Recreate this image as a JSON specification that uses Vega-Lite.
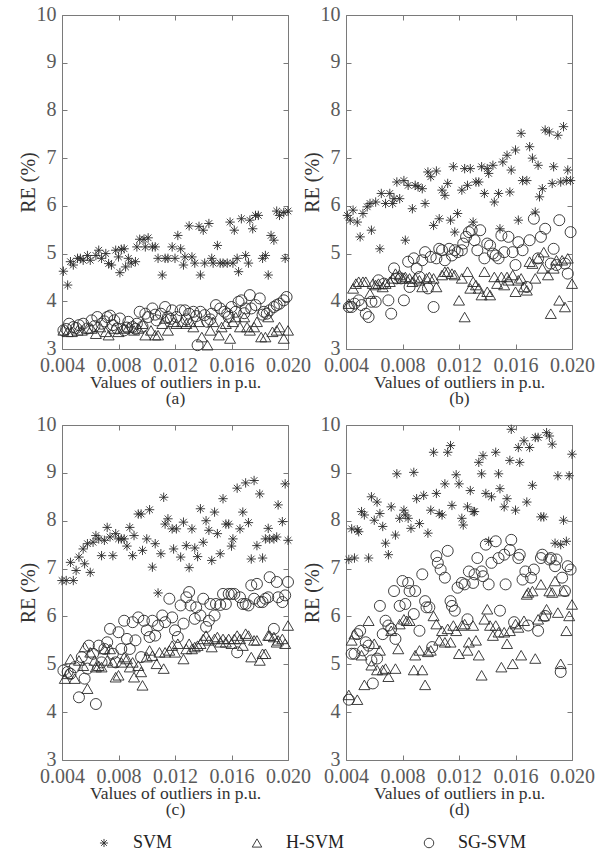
{
"$schema": "https://vega.github.io/schema/vega-lite/v6.json",
"autosize": {"type": "pad"},
"padding": {"left": 17, "top": 3, "right": 5, "bottom": 5},
"background": "white",
"datasets": {
"a": [
{"s":"SVM","x":0.0041,"y":4.63},{"s":"SVM","x":0.0044,"y":4.34},{"s":"SVM","x":0.0046,"y":4.83},{"s":"SVM","x":0.0048,"y":4.76},{"s":"SVM","x":0.0051,"y":4.9},{"s":"SVM","x":0.0053,"y":4.9},{"s":"SVM","x":0.0055,"y":4.86},{"s":"SVM","x":0.0058,"y":4.96},{"s":"SVM","x":0.006,"y":4.86},{"s":"SVM","x":0.0064,"y":4.96},{"s":"SVM","x":0.0066,"y":5.07},{"s":"SVM","x":0.0068,"y":4.9},{"s":"SVM","x":0.0071,"y":5.0},{"s":"SVM","x":0.0073,"y":4.79},{"s":"SVM","x":0.0075,"y":4.76},{"s":"SVM","x":0.0078,"y":5.07},{"s":"SVM","x":0.008,"y":4.93},{"s":"SVM","x":0.0081,"y":4.6},{"s":"SVM","x":0.0082,"y":5.09},{"s":"SVM","x":0.0084,"y":5.1},{"s":"SVM","x":0.0085,"y":4.72},{"s":"SVM","x":0.0087,"y":4.9},{"s":"SVM","x":0.0089,"y":4.8},{"s":"SVM","x":0.0092,"y":4.83},{"s":"SVM","x":0.0093,"y":5.14},{"s":"SVM","x":0.0095,"y":5.3},{"s":"SVM","x":0.0098,"y":5.3},{"s":"SVM","x":0.0099,"y":5.14},{"s":"SVM","x":0.0101,"y":5.33},{"s":"SVM","x":0.0104,"y":5.14},{"s":"SVM","x":0.0106,"y":5.14},{"s":"SVM","x":0.0108,"y":4.9},{"s":"SVM","x":0.0111,"y":4.55},{"s":"SVM","x":0.0113,"y":4.9},{"s":"SVM","x":0.0115,"y":4.9},{"s":"SVM","x":0.0118,"y":5.14},{"s":"SVM","x":0.012,"y":4.9},{"s":"SVM","x":0.0122,"y":5.38},{"s":"SVM","x":0.0124,"y":5.1},{"s":"SVM","x":0.0126,"y":4.76},{"s":"SVM","x":0.0127,"y":4.93},{"s":"SVM","x":0.013,"y":5.58},{"s":"SVM","x":0.0132,"y":4.93},{"s":"SVM","x":0.0134,"y":4.8},{"s":"SVM","x":0.0137,"y":5.57},{"s":"SVM","x":0.0138,"y":4.55},{"s":"SVM","x":0.014,"y":5.49},{"s":"SVM","x":0.0141,"y":4.8},{"s":"SVM","x":0.0144,"y":5.63},{"s":"SVM","x":0.0146,"y":4.9},{"s":"SVM","x":0.0147,"y":4.8},{"s":"SVM","x":0.015,"y":5.17},{"s":"SVM","x":0.0152,"y":4.8},{"s":"SVM","x":0.0154,"y":4.8},{"s":"SVM","x":0.0157,"y":4.8},{"s":"SVM","x":0.0159,"y":5.66},{"s":"SVM","x":0.0161,"y":4.8},{"s":"SVM","x":0.0162,"y":5.49},{"s":"SVM","x":0.0164,"y":4.9},{"s":"SVM","x":0.0165,"y":4.62},{"s":"SVM","x":0.0167,"y":5.73},{"s":"SVM","x":0.017,"y":4.96},{"s":"SVM","x":0.0172,"y":4.8},{"s":"SVM","x":0.0173,"y":5.7},{"s":"SVM","x":0.0175,"y":5.52},{"s":"SVM","x":0.0177,"y":5.8},{"s":"SVM","x":0.0179,"y":5.8},{"s":"SVM","x":0.0182,"y":4.9},{"s":"SVM","x":0.0184,"y":4.96},{"s":"SVM","x":0.0186,"y":4.55},{"s":"SVM","x":0.0188,"y":5.38},{"s":"SVM","x":0.019,"y":5.28},{"s":"SVM","x":0.0192,"y":5.89},{"s":"SVM","x":0.0194,"y":5.8},{"s":"SVM","x":0.0197,"y":5.86},{"s":"SVM","x":0.0198,"y":4.9},{"s":"SVM","x":0.02,"y":5.89},
{"s":"SG-SVM","x":0.0041,"y":3.39},{"s":"SG-SVM","x":0.0043,"y":3.42},{"s":"SG-SVM","x":0.0045,"y":3.53},{"s":"SG-SVM","x":0.0048,"y":3.46},{"s":"SG-SVM","x":0.005,"y":3.44},{"s":"SG-SVM","x":0.0052,"y":3.5},{"s":"SG-SVM","x":0.0055,"y":3.53},{"s":"SG-SVM","x":0.0058,"y":3.43},{"s":"SG-SVM","x":0.0061,"y":3.6},{"s":"SG-SVM","x":0.0063,"y":3.48},{"s":"SG-SVM","x":0.0065,"y":3.67},{"s":"SG-SVM","x":0.0068,"y":3.53},{"s":"SG-SVM","x":0.007,"y":3.58},{"s":"SG-SVM","x":0.0072,"y":3.67},{"s":"SG-SVM","x":0.0074,"y":3.7},{"s":"SG-SVM","x":0.0076,"y":3.5},{"s":"SG-SVM","x":0.0077,"y":3.6},{"s":"SG-SVM","x":0.0079,"y":3.43},{"s":"SG-SVM","x":0.0081,"y":3.64},{"s":"SG-SVM","x":0.0084,"y":3.39},{"s":"SG-SVM","x":0.0086,"y":3.45},{"s":"SG-SVM","x":0.0087,"y":3.57},{"s":"SG-SVM","x":0.009,"y":3.46},{"s":"SG-SVM","x":0.0092,"y":3.42},{"s":"SG-SVM","x":0.0093,"y":3.53},{"s":"SG-SVM","x":0.0095,"y":3.78},{"s":"SG-SVM","x":0.0097,"y":3.47},{"s":"SG-SVM","x":0.0099,"y":3.74},{"s":"SG-SVM","x":0.0101,"y":3.67},{"s":"SG-SVM","x":0.0104,"y":3.85},{"s":"SG-SVM","x":0.0106,"y":3.72},{"s":"SG-SVM","x":0.0107,"y":3.6},{"s":"SG-SVM","x":0.011,"y":3.74},{"s":"SG-SVM","x":0.0113,"y":3.88},{"s":"SG-SVM","x":0.0115,"y":3.67},{"s":"SG-SVM","x":0.0117,"y":3.63},{"s":"SG-SVM","x":0.0118,"y":3.81},{"s":"SG-SVM","x":0.0121,"y":3.67},{"s":"SG-SVM","x":0.0124,"y":3.81},{"s":"SG-SVM","x":0.0127,"y":3.81},{"s":"SG-SVM","x":0.0128,"y":3.62},{"s":"SG-SVM","x":0.013,"y":3.74},{"s":"SG-SVM","x":0.0133,"y":3.78},{"s":"SG-SVM","x":0.0135,"y":3.69},{"s":"SG-SVM","x":0.0136,"y":3.08},{"s":"SG-SVM","x":0.0138,"y":3.78},{"s":"SG-SVM","x":0.0141,"y":3.71},{"s":"SG-SVM","x":0.0143,"y":3.57},{"s":"SG-SVM","x":0.0145,"y":3.62},{"s":"SG-SVM","x":0.0146,"y":3.74},{"s":"SG-SVM","x":0.0149,"y":3.92},{"s":"SG-SVM","x":0.0152,"y":3.85},{"s":"SG-SVM","x":0.0155,"y":3.78},{"s":"SG-SVM","x":0.0157,"y":3.74},{"s":"SG-SVM","x":0.0158,"y":3.67},{"s":"SG-SVM","x":0.016,"y":3.88},{"s":"SG-SVM","x":0.0163,"y":3.78},{"s":"SG-SVM","x":0.0165,"y":3.99},{"s":"SG-SVM","x":0.0167,"y":4.02},{"s":"SG-SVM","x":0.0169,"y":3.75},{"s":"SG-SVM","x":0.017,"y":3.85},{"s":"SG-SVM","x":0.0173,"y":4.13},{"s":"SG-SVM","x":0.0174,"y":3.85},{"s":"SG-SVM","x":0.0177,"y":3.92},{"s":"SG-SVM","x":0.018,"y":4.06},{"s":"SG-SVM","x":0.0182,"y":3.72},{"s":"SG-SVM","x":0.0183,"y":3.78},{"s":"SG-SVM","x":0.0185,"y":3.74},{"s":"SG-SVM","x":0.0187,"y":3.81},{"s":"SG-SVM","x":0.019,"y":3.88},{"s":"SG-SVM","x":0.0192,"y":3.92},{"s":"SG-SVM","x":0.0194,"y":3.95},{"s":"SG-SVM","x":0.0197,"y":4.02},{"s":"SG-SVM","x":0.0199,"y":4.09},
{"s":"H-SVM","x":0.0041,"y":3.39},{"s":"H-SVM","x":0.0044,"y":3.36},{"s":"H-SVM","x":0.0047,"y":3.36},{"s":"H-SVM","x":0.0051,"y":3.39},{"s":"H-SVM","x":0.0054,"y":3.39},{"s":"H-SVM","x":0.0058,"y":3.43},{"s":"H-SVM","x":0.0061,"y":3.43},{"s":"H-SVM","x":0.0064,"y":3.32},{"s":"H-SVM","x":0.0067,"y":3.46},{"s":"H-SVM","x":0.0071,"y":3.36},{"s":"H-SVM","x":0.0073,"y":3.29},{"s":"H-SVM","x":0.0077,"y":3.43},{"s":"H-SVM","x":0.008,"y":3.36},{"s":"H-SVM","x":0.0084,"y":3.43},{"s":"H-SVM","x":0.0087,"y":3.46},{"s":"H-SVM","x":0.0091,"y":3.39},{"s":"H-SVM","x":0.0094,"y":3.43},{"s":"H-SVM","x":0.0097,"y":3.53},{"s":"H-SVM","x":0.0099,"y":3.29},{"s":"H-SVM","x":0.0103,"y":3.39},{"s":"H-SVM","x":0.0106,"y":3.29},{"s":"H-SVM","x":0.0108,"y":3.29},{"s":"H-SVM","x":0.0111,"y":3.53},{"s":"H-SVM","x":0.0113,"y":3.64},{"s":"H-SVM","x":0.0115,"y":3.39},{"s":"H-SVM","x":0.0119,"y":3.57},{"s":"H-SVM","x":0.0121,"y":3.53},{"s":"H-SVM","x":0.0125,"y":3.57},{"s":"H-SVM","x":0.0128,"y":3.53},{"s":"H-SVM","x":0.0131,"y":3.57},{"s":"H-SVM","x":0.0133,"y":3.46},{"s":"H-SVM","x":0.0137,"y":3.57},{"s":"H-SVM","x":0.0139,"y":3.25},{"s":"H-SVM","x":0.0143,"y":3.08},{"s":"H-SVM","x":0.0145,"y":3.39},{"s":"H-SVM","x":0.0147,"y":3.57},{"s":"H-SVM","x":0.0151,"y":3.29},{"s":"H-SVM","x":0.0153,"y":3.46},{"s":"H-SVM","x":0.0156,"y":3.53},{"s":"H-SVM","x":0.0159,"y":3.22},{"s":"H-SVM","x":0.0161,"y":3.57},{"s":"H-SVM","x":0.0163,"y":3.67},{"s":"H-SVM","x":0.0166,"y":3.46},{"s":"H-SVM","x":0.0169,"y":3.67},{"s":"H-SVM","x":0.0171,"y":3.46},{"s":"H-SVM","x":0.0173,"y":3.39},{"s":"H-SVM","x":0.0176,"y":3.46},{"s":"H-SVM","x":0.0178,"y":3.57},{"s":"H-SVM","x":0.0181,"y":3.25},{"s":"H-SVM","x":0.0184,"y":3.25},{"s":"H-SVM","x":0.0186,"y":3.67},{"s":"H-SVM","x":0.0189,"y":3.36},{"s":"H-SVM","x":0.0192,"y":3.39},{"s":"H-SVM","x":0.0194,"y":3.46},{"s":"H-SVM","x":0.0197,"y":3.22},{"s":"H-SVM","x":0.02,"y":3.39}
],
"b": [
{"s":"SVM","x":0.0041,"y":5.8},{"s":"SVM","x":0.0043,"y":5.7},{"s":"SVM","x":0.0045,"y":5.91},{"s":"SVM","x":0.0048,"y":5.66},{"s":"SVM","x":0.005,"y":5.35},{"s":"SVM","x":0.0052,"y":5.84},{"s":"SVM","x":0.0055,"y":5.98},{"s":"SVM","x":0.0057,"y":6.05},{"s":"SVM","x":0.0058,"y":5.49},{"s":"SVM","x":0.0061,"y":6.08},{"s":"SVM","x":0.0064,"y":5.1},{"s":"SVM","x":0.0065,"y":6.26},{"s":"SVM","x":0.0068,"y":6.05},{"s":"SVM","x":0.0071,"y":6.26},{"s":"SVM","x":0.0073,"y":6.05},{"s":"SVM","x":0.0074,"y":6.15},{"s":"SVM","x":0.0076,"y":6.5},{"s":"SVM","x":0.0078,"y":6.15},{"s":"SVM","x":0.0081,"y":6.53},{"s":"SVM","x":0.0082,"y":5.28},{"s":"SVM","x":0.0084,"y":6.43},{"s":"SVM","x":0.0087,"y":5.94},{"s":"SVM","x":0.0089,"y":6.43},{"s":"SVM","x":0.0091,"y":6.4},{"s":"SVM","x":0.0094,"y":6.36},{"s":"SVM","x":0.0096,"y":6.05},{"s":"SVM","x":0.0098,"y":6.71},{"s":"SVM","x":0.01,"y":6.61},{"s":"SVM","x":0.0102,"y":5.59},{"s":"SVM","x":0.0104,"y":6.73},{"s":"SVM","x":0.0106,"y":5.73},{"s":"SVM","x":0.0108,"y":6.33},{"s":"SVM","x":0.011,"y":6.22},{"s":"SVM","x":0.0112,"y":6.47},{"s":"SVM","x":0.0114,"y":5.7},{"s":"SVM","x":0.0116,"y":6.82},{"s":"SVM","x":0.0117,"y":5.45},{"s":"SVM","x":0.0119,"y":5.84},{"s":"SVM","x":0.0122,"y":6.33},{"s":"SVM","x":0.0124,"y":6.78},{"s":"SVM","x":0.0126,"y":6.43},{"s":"SVM","x":0.0128,"y":6.78},{"s":"SVM","x":0.013,"y":5.66},{"s":"SVM","x":0.0132,"y":6.5},{"s":"SVM","x":0.0134,"y":6.5},{"s":"SVM","x":0.0136,"y":6.82},{"s":"SVM","x":0.0138,"y":6.26},{"s":"SVM","x":0.014,"y":6.78},{"s":"SVM","x":0.0141,"y":6.68},{"s":"SVM","x":0.0144,"y":6.85},{"s":"SVM","x":0.0145,"y":6.08},{"s":"SVM","x":0.0148,"y":6.26},{"s":"SVM","x":0.0149,"y":5.52},{"s":"SVM","x":0.0151,"y":6.92},{"s":"SVM","x":0.0154,"y":7.06},{"s":"SVM","x":0.0156,"y":6.29},{"s":"SVM","x":0.0157,"y":6.75},{"s":"SVM","x":0.016,"y":7.17},{"s":"SVM","x":0.0162,"y":5.7},{"s":"SVM","x":0.0164,"y":7.52},{"s":"SVM","x":0.0165,"y":6.53},{"s":"SVM","x":0.0168,"y":6.53},{"s":"SVM","x":0.017,"y":7.24},{"s":"SVM","x":0.0172,"y":7.0},{"s":"SVM","x":0.0174,"y":5.87},{"s":"SVM","x":0.0176,"y":6.85},{"s":"SVM","x":0.0177,"y":6.19},{"s":"SVM","x":0.0179,"y":6.36},{"s":"SVM","x":0.0181,"y":7.59},{"s":"SVM","x":0.0184,"y":7.55},{"s":"SVM","x":0.0186,"y":6.47},{"s":"SVM","x":0.0187,"y":6.82},{"s":"SVM","x":0.019,"y":7.48},{"s":"SVM","x":0.0192,"y":6.5},{"s":"SVM","x":0.0194,"y":7.66},{"s":"SVM","x":0.0196,"y":6.53},{"s":"SVM","x":0.0197,"y":6.75},{"s":"SVM","x":0.0199,"y":6.53},
{"s":"SG-SVM","x":0.0042,"y":3.88},{"s":"SG-SVM","x":0.0044,"y":3.88},{"s":"SG-SVM","x":0.0046,"y":3.95},{"s":"SG-SVM","x":0.0049,"y":4.02},{"s":"SG-SVM","x":0.0051,"y":3.92},{"s":"SG-SVM","x":0.0054,"y":3.74},{"s":"SG-SVM","x":0.0056,"y":3.67},{"s":"SG-SVM","x":0.0058,"y":3.99},{"s":"SG-SVM","x":0.0061,"y":3.99},{"s":"SG-SVM","x":0.0063,"y":4.44},{"s":"SG-SVM","x":0.0067,"y":4.37},{"s":"SG-SVM","x":0.007,"y":4.02},{"s":"SG-SVM","x":0.0072,"y":3.74},{"s":"SG-SVM","x":0.0074,"y":4.69},{"s":"SG-SVM","x":0.0076,"y":4.48},{"s":"SG-SVM","x":0.0079,"y":4.48},{"s":"SG-SVM","x":0.0081,"y":4.02},{"s":"SG-SVM","x":0.0084,"y":4.83},{"s":"SG-SVM","x":0.0085,"y":4.3},{"s":"SG-SVM","x":0.0088,"y":4.9},{"s":"SG-SVM","x":0.009,"y":4.69},{"s":"SG-SVM","x":0.0092,"y":4.51},{"s":"SG-SVM","x":0.0094,"y":4.86},{"s":"SG-SVM","x":0.0096,"y":5.03},{"s":"SG-SVM","x":0.0098,"y":4.27},{"s":"SG-SVM","x":0.01,"y":4.93},{"s":"SG-SVM","x":0.0102,"y":3.88},{"s":"SG-SVM","x":0.0104,"y":4.9},{"s":"SG-SVM","x":0.0106,"y":5.1},{"s":"SG-SVM","x":0.0108,"y":5.07},{"s":"SG-SVM","x":0.011,"y":4.86},{"s":"SG-SVM","x":0.0113,"y":5.1},{"s":"SG-SVM","x":0.0115,"y":4.96},{"s":"SG-SVM","x":0.0117,"y":5.07},{"s":"SG-SVM","x":0.0119,"y":5.03},{"s":"SG-SVM","x":0.0122,"y":5.07},{"s":"SG-SVM","x":0.0123,"y":5.21},{"s":"SG-SVM","x":0.0125,"y":5.35},{"s":"SG-SVM","x":0.0127,"y":5.45},{"s":"SG-SVM","x":0.0129,"y":5.49},{"s":"SG-SVM","x":0.0131,"y":5.28},{"s":"SG-SVM","x":0.0133,"y":5.07},{"s":"SG-SVM","x":0.0135,"y":5.49},{"s":"SG-SVM","x":0.0138,"y":4.9},{"s":"SG-SVM","x":0.014,"y":5.21},{"s":"SG-SVM","x":0.0142,"y":5.17},{"s":"SG-SVM","x":0.0144,"y":5.0},{"s":"SG-SVM","x":0.0146,"y":4.96},{"s":"SG-SVM","x":0.0148,"y":4.9},{"s":"SG-SVM","x":0.015,"y":5.38},{"s":"SG-SVM","x":0.0152,"y":5.03},{"s":"SG-SVM","x":0.0155,"y":5.35},{"s":"SG-SVM","x":0.0158,"y":5.03},{"s":"SG-SVM","x":0.016,"y":4.76},{"s":"SG-SVM","x":0.0162,"y":5.24},{"s":"SG-SVM","x":0.0165,"y":5.07},{"s":"SG-SVM","x":0.0168,"y":4.3},{"s":"SG-SVM","x":0.017,"y":5.28},{"s":"SG-SVM","x":0.0173,"y":5.73},{"s":"SG-SVM","x":0.0176,"y":4.9},{"s":"SG-SVM","x":0.0178,"y":5.35},{"s":"SG-SVM","x":0.0181,"y":5.52},{"s":"SG-SVM","x":0.0185,"y":4.79},{"s":"SG-SVM","x":0.0187,"y":5.1},{"s":"SG-SVM","x":0.0189,"y":4.76},{"s":"SG-SVM","x":0.0191,"y":5.7},{"s":"SG-SVM","x":0.0195,"y":4.79},{"s":"SG-SVM","x":0.0197,"y":4.58},{"s":"SG-SVM","x":0.0199,"y":5.45},
{"s":"H-SVM","x":0.0042,"y":3.95},{"s":"H-SVM","x":0.0045,"y":4.27},{"s":"H-SVM","x":0.0047,"y":4.37},{"s":"H-SVM","x":0.0049,"y":4.41},{"s":"H-SVM","x":0.0052,"y":4.41},{"s":"H-SVM","x":0.0054,"y":4.41},{"s":"H-SVM","x":0.0057,"y":4.16},{"s":"H-SVM","x":0.0059,"y":4.37},{"s":"H-SVM","x":0.0061,"y":4.34},{"s":"H-SVM","x":0.0063,"y":4.37},{"s":"H-SVM","x":0.0066,"y":4.3},{"s":"H-SVM","x":0.0068,"y":4.37},{"s":"H-SVM","x":0.0071,"y":4.41},{"s":"H-SVM","x":0.0073,"y":4.48},{"s":"H-SVM","x":0.0075,"y":4.58},{"s":"H-SVM","x":0.0078,"y":4.55},{"s":"H-SVM","x":0.008,"y":4.48},{"s":"H-SVM","x":0.0082,"y":4.51},{"s":"H-SVM","x":0.0085,"y":4.48},{"s":"H-SVM","x":0.0087,"y":4.41},{"s":"H-SVM","x":0.0089,"y":4.48},{"s":"H-SVM","x":0.0092,"y":4.44},{"s":"H-SVM","x":0.0094,"y":4.3},{"s":"H-SVM","x":0.0097,"y":4.48},{"s":"H-SVM","x":0.0099,"y":4.51},{"s":"H-SVM","x":0.0102,"y":4.48},{"s":"H-SVM","x":0.0104,"y":4.3},{"s":"H-SVM","x":0.0108,"y":4.55},{"s":"H-SVM","x":0.011,"y":4.62},{"s":"H-SVM","x":0.0112,"y":4.62},{"s":"H-SVM","x":0.0115,"y":4.58},{"s":"H-SVM","x":0.0117,"y":4.55},{"s":"H-SVM","x":0.012,"y":4.02},{"s":"H-SVM","x":0.0122,"y":4.48},{"s":"H-SVM","x":0.0124,"y":3.67},{"s":"H-SVM","x":0.0126,"y":4.62},{"s":"H-SVM","x":0.0128,"y":4.27},{"s":"H-SVM","x":0.013,"y":4.41},{"s":"H-SVM","x":0.0132,"y":4.34},{"s":"H-SVM","x":0.0134,"y":4.27},{"s":"H-SVM","x":0.0136,"y":4.13},{"s":"H-SVM","x":0.0138,"y":4.62},{"s":"H-SVM","x":0.014,"y":4.2},{"s":"H-SVM","x":0.0142,"y":4.13},{"s":"H-SVM","x":0.0145,"y":4.51},{"s":"H-SVM","x":0.0147,"y":4.37},{"s":"H-SVM","x":0.015,"y":4.51},{"s":"H-SVM","x":0.0152,"y":4.34},{"s":"H-SVM","x":0.0154,"y":4.51},{"s":"H-SVM","x":0.0155,"y":4.44},{"s":"H-SVM","x":0.0158,"y":4.55},{"s":"H-SVM","x":0.016,"y":4.2},{"s":"H-SVM","x":0.0162,"y":4.44},{"s":"H-SVM","x":0.0164,"y":4.48},{"s":"H-SVM","x":0.0166,"y":4.3},{"s":"H-SVM","x":0.0168,"y":4.23},{"s":"H-SVM","x":0.017,"y":4.83},{"s":"H-SVM","x":0.0172,"y":4.79},{"s":"H-SVM","x":0.0174,"y":4.48},{"s":"H-SVM","x":0.0176,"y":4.9},{"s":"H-SVM","x":0.0179,"y":4.69},{"s":"H-SVM","x":0.018,"y":5.03},{"s":"H-SVM","x":0.0183,"y":4.55},{"s":"H-SVM","x":0.0185,"y":3.74},{"s":"H-SVM","x":0.0187,"y":4.69},{"s":"H-SVM","x":0.0189,"y":4.86},{"s":"H-SVM","x":0.0191,"y":4.02},{"s":"H-SVM","x":0.0193,"y":4.86},{"s":"H-SVM","x":0.0195,"y":3.88},{"s":"H-SVM","x":0.0197,"y":4.9},{"s":"H-SVM","x":0.02,"y":4.37}
],
"c": [
{"s":"SVM","x":0.004,"y":6.75},{"s":"SVM","x":0.0043,"y":6.75},{"s":"SVM","x":0.0046,"y":7.13},{"s":"SVM","x":0.0048,"y":6.75},{"s":"SVM","x":0.005,"y":6.96},{"s":"SVM","x":0.0052,"y":7.24},{"s":"SVM","x":0.0055,"y":7.41},{"s":"SVM","x":0.0056,"y":7.1},{"s":"SVM","x":0.0058,"y":7.52},{"s":"SVM","x":0.006,"y":6.92},{"s":"SVM","x":0.0062,"y":7.55},{"s":"SVM","x":0.0064,"y":7.69},{"s":"SVM","x":0.0066,"y":7.62},{"s":"SVM","x":0.0068,"y":7.27},{"s":"SVM","x":0.007,"y":7.59},{"s":"SVM","x":0.0072,"y":7.86},{"s":"SVM","x":0.0074,"y":7.66},{"s":"SVM","x":0.0076,"y":7.27},{"s":"SVM","x":0.0078,"y":7.73},{"s":"SVM","x":0.008,"y":7.62},{"s":"SVM","x":0.0082,"y":7.62},{"s":"SVM","x":0.0084,"y":7.62},{"s":"SVM","x":0.0086,"y":7.47},{"s":"SVM","x":0.0088,"y":7.86},{"s":"SVM","x":0.009,"y":7.27},{"s":"SVM","x":0.0091,"y":7.69},{"s":"SVM","x":0.0094,"y":8.14},{"s":"SVM","x":0.0096,"y":8.14},{"s":"SVM","x":0.0097,"y":7.38},{"s":"SVM","x":0.01,"y":7.62},{"s":"SVM","x":0.0102,"y":8.23},{"s":"SVM","x":0.0104,"y":7.03},{"s":"SVM","x":0.0106,"y":7.52},{"s":"SVM","x":0.0108,"y":6.49},{"s":"SVM","x":0.011,"y":7.31},{"s":"SVM","x":0.0112,"y":8.49},{"s":"SVM","x":0.0113,"y":7.93},{"s":"SVM","x":0.0115,"y":8.04},{"s":"SVM","x":0.0118,"y":7.83},{"s":"SVM","x":0.0119,"y":7.41},{"s":"SVM","x":0.0121,"y":7.83},{"s":"SVM","x":0.0124,"y":7.24},{"s":"SVM","x":0.0126,"y":7.97},{"s":"SVM","x":0.0128,"y":7.48},{"s":"SVM","x":0.013,"y":7.02},{"s":"SVM","x":0.0132,"y":7.83},{"s":"SVM","x":0.0134,"y":7.43},{"s":"SVM","x":0.0136,"y":7.25},{"s":"SVM","x":0.0138,"y":8.25},{"s":"SVM","x":0.014,"y":7.55},{"s":"SVM","x":0.0142,"y":8.0},{"s":"SVM","x":0.0144,"y":7.8},{"s":"SVM","x":0.0146,"y":7.17},{"s":"SVM","x":0.0148,"y":8.18},{"s":"SVM","x":0.015,"y":7.73},{"s":"SVM","x":0.0152,"y":7.31},{"s":"SVM","x":0.0154,"y":8.46},{"s":"SVM","x":0.0156,"y":7.93},{"s":"SVM","x":0.0158,"y":7.93},{"s":"SVM","x":0.016,"y":7.47},{"s":"SVM","x":0.0161,"y":7.62},{"s":"SVM","x":0.0164,"y":8.68},{"s":"SVM","x":0.0166,"y":7.83},{"s":"SVM","x":0.0168,"y":8.18},{"s":"SVM","x":0.017,"y":8.79},{"s":"SVM","x":0.0172,"y":7.96},{"s":"SVM","x":0.0174,"y":7.2},{"s":"SVM","x":0.0176,"y":8.84},{"s":"SVM","x":0.0178,"y":7.48},{"s":"SVM","x":0.018,"y":8.56},{"s":"SVM","x":0.0182,"y":7.22},{"s":"SVM","x":0.0184,"y":7.62},{"s":"SVM","x":0.0186,"y":7.84},{"s":"SVM","x":0.0187,"y":7.62},{"s":"SVM","x":0.019,"y":7.62},{"s":"SVM","x":0.0192,"y":7.66},{"s":"SVM","x":0.0193,"y":8.33},{"s":"SVM","x":0.0196,"y":7.98},{"s":"SVM","x":0.0198,"y":8.77},{"s":"SVM","x":0.02,"y":7.59},
{"s":"SG-SVM","x":0.0041,"y":4.87},{"s":"SG-SVM","x":0.0044,"y":4.84},{"s":"SG-SVM","x":0.0046,"y":4.8},{"s":"SG-SVM","x":0.0049,"y":4.94},{"s":"SG-SVM","x":0.0052,"y":4.31},{"s":"SG-SVM","x":0.0054,"y":5.15},{"s":"SG-SVM","x":0.0056,"y":4.7},{"s":"SG-SVM","x":0.0058,"y":4.91},{"s":"SG-SVM","x":0.0059,"y":5.39},{"s":"SG-SVM","x":0.0062,"y":5.22},{"s":"SG-SVM","x":0.0064,"y":4.17},{"s":"SG-SVM","x":0.0066,"y":5.39},{"s":"SG-SVM","x":0.0068,"y":5.04},{"s":"SG-SVM","x":0.007,"y":5.32},{"s":"SG-SVM","x":0.0072,"y":5.46},{"s":"SG-SVM","x":0.0074,"y":5.74},{"s":"SG-SVM","x":0.0076,"y":5.22},{"s":"SG-SVM","x":0.0078,"y":5.04},{"s":"SG-SVM","x":0.008,"y":5.67},{"s":"SG-SVM","x":0.0082,"y":5.32},{"s":"SG-SVM","x":0.0084,"y":5.91},{"s":"SG-SVM","x":0.0086,"y":5.53},{"s":"SG-SVM","x":0.0088,"y":5.32},{"s":"SG-SVM","x":0.009,"y":5.88},{"s":"SG-SVM","x":0.0092,"y":5.5},{"s":"SG-SVM","x":0.0094,"y":5.98},{"s":"SG-SVM","x":0.0096,"y":5.15},{"s":"SG-SVM","x":0.0098,"y":5.91},{"s":"SG-SVM","x":0.01,"y":5.71},{"s":"SG-SVM","x":0.0102,"y":5.57},{"s":"SG-SVM","x":0.0104,"y":5.91},{"s":"SG-SVM","x":0.0106,"y":5.6},{"s":"SG-SVM","x":0.0108,"y":5.81},{"s":"SG-SVM","x":0.0111,"y":6.02},{"s":"SG-SVM","x":0.0113,"y":5.88},{"s":"SG-SVM","x":0.0116,"y":6.37},{"s":"SG-SVM","x":0.0118,"y":5.98},{"s":"SG-SVM","x":0.012,"y":5.71},{"s":"SG-SVM","x":0.0122,"y":5.57},{"s":"SG-SVM","x":0.0124,"y":6.23},{"s":"SG-SVM","x":0.0126,"y":5.85},{"s":"SG-SVM","x":0.0128,"y":6.4},{"s":"SG-SVM","x":0.013,"y":6.51},{"s":"SG-SVM","x":0.0131,"y":6.23},{"s":"SG-SVM","x":0.0134,"y":5.95},{"s":"SG-SVM","x":0.0135,"y":6.19},{"s":"SG-SVM","x":0.0138,"y":6.02},{"s":"SG-SVM","x":0.014,"y":6.37},{"s":"SG-SVM","x":0.0142,"y":5.78},{"s":"SG-SVM","x":0.0144,"y":5.91},{"s":"SG-SVM","x":0.0145,"y":6.26},{"s":"SG-SVM","x":0.0148,"y":6.02},{"s":"SG-SVM","x":0.0149,"y":6.26},{"s":"SG-SVM","x":0.0152,"y":6.24},{"s":"SG-SVM","x":0.0154,"y":6.47},{"s":"SG-SVM","x":0.0156,"y":6.26},{"s":"SG-SVM","x":0.0158,"y":6.47},{"s":"SG-SVM","x":0.016,"y":6.47},{"s":"SG-SVM","x":0.0162,"y":6.47},{"s":"SG-SVM","x":0.0164,"y":5.25},{"s":"SG-SVM","x":0.0166,"y":6.4},{"s":"SG-SVM","x":0.0168,"y":6.26},{"s":"SG-SVM","x":0.017,"y":6.26},{"s":"SG-SVM","x":0.0172,"y":6.23},{"s":"SG-SVM","x":0.0174,"y":6.65},{"s":"SG-SVM","x":0.0176,"y":6.37},{"s":"SG-SVM","x":0.0178,"y":6.68},{"s":"SG-SVM","x":0.018,"y":6.3},{"s":"SG-SVM","x":0.0182,"y":6.3},{"s":"SG-SVM","x":0.0184,"y":6.37},{"s":"SG-SVM","x":0.0186,"y":6.4},{"s":"SG-SVM","x":0.0187,"y":6.82},{"s":"SG-SVM","x":0.019,"y":5.74},{"s":"SG-SVM","x":0.0192,"y":6.72},{"s":"SG-SVM","x":0.0193,"y":6.4},{"s":"SG-SVM","x":0.0196,"y":6.3},{"s":"SG-SVM","x":0.0198,"y":6.44},{"s":"SG-SVM","x":0.02,"y":6.72},
{"s":"H-SVM","x":0.0042,"y":4.7},{"s":"H-SVM","x":0.0044,"y":4.8},{"s":"H-SVM","x":0.0046,"y":5.11},{"s":"H-SVM","x":0.0049,"y":4.7},{"s":"H-SVM","x":0.0052,"y":5.08},{"s":"H-SVM","x":0.0055,"y":4.97},{"s":"H-SVM","x":0.0056,"y":5.36},{"s":"H-SVM","x":0.0058,"y":4.49},{"s":"H-SVM","x":0.006,"y":5.25},{"s":"H-SVM","x":0.0063,"y":5.08},{"s":"H-SVM","x":0.0064,"y":4.94},{"s":"H-SVM","x":0.0066,"y":4.97},{"s":"H-SVM","x":0.0068,"y":4.94},{"s":"H-SVM","x":0.007,"y":5.32},{"s":"H-SVM","x":0.0072,"y":5.08},{"s":"H-SVM","x":0.0074,"y":5.32},{"s":"H-SVM","x":0.0076,"y":5.04},{"s":"H-SVM","x":0.0078,"y":4.73},{"s":"H-SVM","x":0.008,"y":4.77},{"s":"H-SVM","x":0.0082,"y":5.04},{"s":"H-SVM","x":0.0084,"y":5.15},{"s":"H-SVM","x":0.0086,"y":5.11},{"s":"H-SVM","x":0.0088,"y":4.94},{"s":"H-SVM","x":0.009,"y":5.04},{"s":"H-SVM","x":0.0091,"y":4.73},{"s":"H-SVM","x":0.0094,"y":4.97},{"s":"H-SVM","x":0.0096,"y":4.84},{"s":"H-SVM","x":0.0097,"y":4.56},{"s":"H-SVM","x":0.01,"y":5.15},{"s":"H-SVM","x":0.0102,"y":5.29},{"s":"H-SVM","x":0.0104,"y":5.18},{"s":"H-SVM","x":0.0107,"y":5.01},{"s":"H-SVM","x":0.0109,"y":5.25},{"s":"H-SVM","x":0.0112,"y":4.91},{"s":"H-SVM","x":0.0113,"y":5.25},{"s":"H-SVM","x":0.0116,"y":5.29},{"s":"H-SVM","x":0.0118,"y":5.39},{"s":"H-SVM","x":0.012,"y":5.25},{"s":"H-SVM","x":0.0122,"y":5.43},{"s":"H-SVM","x":0.0126,"y":5.11},{"s":"H-SVM","x":0.0128,"y":5.32},{"s":"H-SVM","x":0.013,"y":5.43},{"s":"H-SVM","x":0.0132,"y":5.32},{"s":"H-SVM","x":0.0134,"y":5.36},{"s":"H-SVM","x":0.0136,"y":5.39},{"s":"H-SVM","x":0.0138,"y":5.43},{"s":"H-SVM","x":0.014,"y":5.53},{"s":"H-SVM","x":0.0142,"y":5.6},{"s":"H-SVM","x":0.0144,"y":5.5},{"s":"H-SVM","x":0.0146,"y":5.36},{"s":"H-SVM","x":0.0148,"y":5.53},{"s":"H-SVM","x":0.015,"y":5.57},{"s":"H-SVM","x":0.0152,"y":5.46},{"s":"H-SVM","x":0.0154,"y":5.53},{"s":"H-SVM","x":0.0156,"y":5.46},{"s":"H-SVM","x":0.0158,"y":5.53},{"s":"H-SVM","x":0.016,"y":5.43},{"s":"H-SVM","x":0.0162,"y":5.53},{"s":"H-SVM","x":0.0164,"y":5.6},{"s":"H-SVM","x":0.0166,"y":5.53},{"s":"H-SVM","x":0.0168,"y":5.39},{"s":"H-SVM","x":0.017,"y":5.64},{"s":"H-SVM","x":0.0172,"y":5.6},{"s":"H-SVM","x":0.0174,"y":5.15},{"s":"H-SVM","x":0.0176,"y":5.5},{"s":"H-SVM","x":0.0178,"y":5.5},{"s":"H-SVM","x":0.018,"y":5.08},{"s":"H-SVM","x":0.0182,"y":5.22},{"s":"H-SVM","x":0.0184,"y":5.22},{"s":"H-SVM","x":0.0186,"y":5.6},{"s":"H-SVM","x":0.0187,"y":5.6},{"s":"H-SVM","x":0.019,"y":5.57},{"s":"H-SVM","x":0.0192,"y":5.46},{"s":"H-SVM","x":0.0193,"y":5.5},{"s":"H-SVM","x":0.0196,"y":5.53},{"s":"H-SVM","x":0.0198,"y":5.43},{"s":"H-SVM","x":0.02,"y":5.81}
],
"d": [
{"s":"SVM","x":0.0042,"y":7.19},{"s":"SVM","x":0.0044,"y":7.83},{"s":"SVM","x":0.0046,"y":7.22},{"s":"SVM","x":0.0048,"y":7.81},{"s":"SVM","x":0.0049,"y":7.77},{"s":"SVM","x":0.0051,"y":8.19},{"s":"SVM","x":0.0053,"y":8.12},{"s":"SVM","x":0.0056,"y":7.22},{"s":"SVM","x":0.0058,"y":8.5},{"s":"SVM","x":0.006,"y":8.01},{"s":"SVM","x":0.0062,"y":8.39},{"s":"SVM","x":0.0064,"y":8.15},{"s":"SVM","x":0.0066,"y":7.88},{"s":"SVM","x":0.0068,"y":7.53},{"s":"SVM","x":0.007,"y":7.29},{"s":"SVM","x":0.0072,"y":8.29},{"s":"SVM","x":0.0075,"y":7.7},{"s":"SVM","x":0.0076,"y":8.98},{"s":"SVM","x":0.0078,"y":8.05},{"s":"SVM","x":0.0081,"y":8.22},{"s":"SVM","x":0.0082,"y":8.12},{"s":"SVM","x":0.0084,"y":8.05},{"s":"SVM","x":0.0086,"y":7.84},{"s":"SVM","x":0.0088,"y":9.01},{"s":"SVM","x":0.009,"y":8.46},{"s":"SVM","x":0.0092,"y":7.94},{"s":"SVM","x":0.0095,"y":8.53},{"s":"SVM","x":0.0098,"y":7.74},{"s":"SVM","x":0.01,"y":8.22},{"s":"SVM","x":0.0102,"y":9.43},{"s":"SVM","x":0.0104,"y":8.57},{"s":"SVM","x":0.0106,"y":8.15},{"s":"SVM","x":0.0108,"y":8.12},{"s":"SVM","x":0.011,"y":8.77},{"s":"SVM","x":0.0112,"y":9.43},{"s":"SVM","x":0.0114,"y":9.57},{"s":"SVM","x":0.0115,"y":8.32},{"s":"SVM","x":0.0118,"y":8.96},{"s":"SVM","x":0.012,"y":8.77},{"s":"SVM","x":0.0122,"y":8.05},{"s":"SVM","x":0.0123,"y":7.91},{"s":"SVM","x":0.0126,"y":8.29},{"s":"SVM","x":0.0128,"y":8.63},{"s":"SVM","x":0.013,"y":8.19},{"s":"SVM","x":0.0131,"y":8.19},{"s":"SVM","x":0.0134,"y":9.22},{"s":"SVM","x":0.0136,"y":8.98},{"s":"SVM","x":0.0137,"y":9.36},{"s":"SVM","x":0.0139,"y":8.57},{"s":"SVM","x":0.0141,"y":7.57},{"s":"SVM","x":0.0143,"y":8.5},{"s":"SVM","x":0.0146,"y":9.43},{"s":"SVM","x":0.0148,"y":8.98},{"s":"SVM","x":0.0149,"y":8.67},{"s":"SVM","x":0.0152,"y":8.29},{"s":"SVM","x":0.0154,"y":8.46},{"s":"SVM","x":0.0156,"y":9.26},{"s":"SVM","x":0.0157,"y":9.91},{"s":"SVM","x":0.016,"y":8.22},{"s":"SVM","x":0.0162,"y":9.53},{"s":"SVM","x":0.0163,"y":9.22},{"s":"SVM","x":0.0166,"y":9.67},{"s":"SVM","x":0.0168,"y":8.39},{"s":"SVM","x":0.017,"y":9.53},{"s":"SVM","x":0.0172,"y":8.74},{"s":"SVM","x":0.0174,"y":9.74},{"s":"SVM","x":0.0176,"y":9.74},{"s":"SVM","x":0.0178,"y":8.08},{"s":"SVM","x":0.018,"y":8.08},{"s":"SVM","x":0.0182,"y":9.84},{"s":"SVM","x":0.0184,"y":9.77},{"s":"SVM","x":0.0186,"y":9.6},{"s":"SVM","x":0.0188,"y":7.53},{"s":"SVM","x":0.019,"y":8.94},{"s":"SVM","x":0.0192,"y":7.5},{"s":"SVM","x":0.0194,"y":8.01},{"s":"SVM","x":0.0196,"y":7.57},{"s":"SVM","x":0.0198,"y":8.94},{"s":"SVM","x":0.02,"y":9.39},
{"s":"SG-SVM","x":0.0042,"y":4.26},{"s":"SG-SVM","x":0.0044,"y":5.22},{"s":"SG-SVM","x":0.0046,"y":5.22},{"s":"SG-SVM","x":0.0048,"y":5.63},{"s":"SG-SVM","x":0.005,"y":5.7},{"s":"SG-SVM","x":0.0052,"y":5.29},{"s":"SG-SVM","x":0.0054,"y":5.46},{"s":"SG-SVM","x":0.0056,"y":5.39},{"s":"SG-SVM","x":0.0058,"y":5.08},{"s":"SG-SVM","x":0.0059,"y":4.6},{"s":"SG-SVM","x":0.0062,"y":5.12},{"s":"SG-SVM","x":0.0064,"y":6.22},{"s":"SG-SVM","x":0.0066,"y":5.63},{"s":"SG-SVM","x":0.0068,"y":5.91},{"s":"SG-SVM","x":0.007,"y":5.81},{"s":"SG-SVM","x":0.0072,"y":5.74},{"s":"SG-SVM","x":0.0074,"y":6.53},{"s":"SG-SVM","x":0.0075,"y":5.53},{"s":"SG-SVM","x":0.0078,"y":6.22},{"s":"SG-SVM","x":0.008,"y":6.74},{"s":"SG-SVM","x":0.0082,"y":6.26},{"s":"SG-SVM","x":0.0084,"y":6.7},{"s":"SG-SVM","x":0.0085,"y":6.53},{"s":"SG-SVM","x":0.0088,"y":6.05},{"s":"SG-SVM","x":0.0089,"y":6.53},{"s":"SG-SVM","x":0.0092,"y":5.7},{"s":"SG-SVM","x":0.0094,"y":6.88},{"s":"SG-SVM","x":0.0096,"y":6.32},{"s":"SG-SVM","x":0.0097,"y":6.19},{"s":"SG-SVM","x":0.0099,"y":6.19},{"s":"SG-SVM","x":0.0101,"y":5.36},{"s":"SG-SVM","x":0.0104,"y":7.26},{"s":"SG-SVM","x":0.0105,"y":7.12},{"s":"SG-SVM","x":0.0107,"y":6.98},{"s":"SG-SVM","x":0.011,"y":6.81},{"s":"SG-SVM","x":0.0112,"y":7.37},{"s":"SG-SVM","x":0.0114,"y":6.32},{"s":"SG-SVM","x":0.0115,"y":6.22},{"s":"SG-SVM","x":0.0117,"y":6.12},{"s":"SG-SVM","x":0.0119,"y":6.6},{"s":"SG-SVM","x":0.0122,"y":6.7},{"s":"SG-SVM","x":0.0124,"y":6.67},{"s":"SG-SVM","x":0.0126,"y":5.94},{"s":"SG-SVM","x":0.0127,"y":6.94},{"s":"SG-SVM","x":0.013,"y":6.7},{"s":"SG-SVM","x":0.0131,"y":6.88},{"s":"SG-SVM","x":0.0133,"y":7.22},{"s":"SG-SVM","x":0.0136,"y":6.94},{"s":"SG-SVM","x":0.0137,"y":6.84},{"s":"SG-SVM","x":0.0139,"y":7.5},{"s":"SG-SVM","x":0.0141,"y":6.67},{"s":"SG-SVM","x":0.0143,"y":7.12},{"s":"SG-SVM","x":0.0146,"y":7.57},{"s":"SG-SVM","x":0.0148,"y":7.22},{"s":"SG-SVM","x":0.0149,"y":6.12},{"s":"SG-SVM","x":0.0152,"y":7.29},{"s":"SG-SVM","x":0.0153,"y":6.67},{"s":"SG-SVM","x":0.0156,"y":7.39},{"s":"SG-SVM","x":0.0157,"y":7.6},{"s":"SG-SVM","x":0.0159,"y":5.88},{"s":"SG-SVM","x":0.0162,"y":7.22},{"s":"SG-SVM","x":0.0163,"y":7.29},{"s":"SG-SVM","x":0.0165,"y":6.77},{"s":"SG-SVM","x":0.0167,"y":6.94},{"s":"SG-SVM","x":0.0169,"y":5.81},{"s":"SG-SVM","x":0.0171,"y":6.81},{"s":"SG-SVM","x":0.0173,"y":6.98},{"s":"SG-SVM","x":0.0176,"y":5.7},{"s":"SG-SVM","x":0.0178,"y":7.22},{"s":"SG-SVM","x":0.0179,"y":7.29},{"s":"SG-SVM","x":0.0181,"y":6.01},{"s":"SG-SVM","x":0.0184,"y":7.19},{"s":"SG-SVM","x":0.0185,"y":7.22},{"s":"SG-SVM","x":0.0188,"y":7.05},{"s":"SG-SVM","x":0.0189,"y":7.19},{"s":"SG-SVM","x":0.0192,"y":4.84},{"s":"SG-SVM","x":0.0193,"y":6.81},{"s":"SG-SVM","x":0.0195,"y":6.53},{"s":"SG-SVM","x":0.0197,"y":7.05},{"s":"SG-SVM","x":0.0199,"y":6.98},
{"s":"H-SVM","x":0.0042,"y":4.36},{"s":"H-SVM","x":0.0044,"y":5.5},{"s":"H-SVM","x":0.0046,"y":5.63},{"s":"H-SVM","x":0.0048,"y":4.26},{"s":"H-SVM","x":0.0051,"y":5.19},{"s":"H-SVM","x":0.0053,"y":4.57},{"s":"H-SVM","x":0.0056,"y":5.91},{"s":"H-SVM","x":0.0058,"y":4.98},{"s":"H-SVM","x":0.006,"y":5.43},{"s":"H-SVM","x":0.0062,"y":4.88},{"s":"H-SVM","x":0.0064,"y":5.29},{"s":"H-SVM","x":0.0066,"y":4.88},{"s":"H-SVM","x":0.0068,"y":4.91},{"s":"H-SVM","x":0.007,"y":4.74},{"s":"H-SVM","x":0.0072,"y":5.7},{"s":"H-SVM","x":0.0075,"y":4.91},{"s":"H-SVM","x":0.0077,"y":5.32},{"s":"H-SVM","x":0.0078,"y":5.84},{"s":"H-SVM","x":0.0081,"y":5.94},{"s":"H-SVM","x":0.0083,"y":5.91},{"s":"H-SVM","x":0.0085,"y":5.91},{"s":"H-SVM","x":0.0088,"y":4.88},{"s":"H-SVM","x":0.0089,"y":5.19},{"s":"H-SVM","x":0.0092,"y":5.29},{"s":"H-SVM","x":0.0094,"y":4.88},{"s":"H-SVM","x":0.0096,"y":4.57},{"s":"H-SVM","x":0.0098,"y":5.26},{"s":"H-SVM","x":0.01,"y":5.29},{"s":"H-SVM","x":0.0102,"y":6.01},{"s":"H-SVM","x":0.0104,"y":5.84},{"s":"H-SVM","x":0.0106,"y":5.5},{"s":"H-SVM","x":0.0108,"y":5.7},{"s":"H-SVM","x":0.011,"y":5.46},{"s":"H-SVM","x":0.0112,"y":5.74},{"s":"H-SVM","x":0.0114,"y":5.46},{"s":"H-SVM","x":0.0116,"y":5.81},{"s":"H-SVM","x":0.0118,"y":5.7},{"s":"H-SVM","x":0.012,"y":5.22},{"s":"H-SVM","x":0.0122,"y":5.81},{"s":"H-SVM","x":0.0124,"y":5.84},{"s":"H-SVM","x":0.0126,"y":5.29},{"s":"H-SVM","x":0.0127,"y":5.46},{"s":"H-SVM","x":0.013,"y":5.81},{"s":"H-SVM","x":0.0132,"y":5.5},{"s":"H-SVM","x":0.0134,"y":5.19},{"s":"H-SVM","x":0.0136,"y":4.77},{"s":"H-SVM","x":0.0138,"y":5.94},{"s":"H-SVM","x":0.014,"y":6.15},{"s":"H-SVM","x":0.0142,"y":5.81},{"s":"H-SVM","x":0.0144,"y":5.6},{"s":"H-SVM","x":0.0146,"y":5.81},{"s":"H-SVM","x":0.0148,"y":5.67},{"s":"H-SVM","x":0.015,"y":4.94},{"s":"H-SVM","x":0.0152,"y":5.67},{"s":"H-SVM","x":0.0154,"y":5.43},{"s":"H-SVM","x":0.0156,"y":5.7},{"s":"H-SVM","x":0.0158,"y":5.01},{"s":"H-SVM","x":0.016,"y":5.84},{"s":"H-SVM","x":0.0162,"y":5.77},{"s":"H-SVM","x":0.0164,"y":5.19},{"s":"H-SVM","x":0.0166,"y":5.91},{"s":"H-SVM","x":0.0168,"y":6.46},{"s":"H-SVM","x":0.0169,"y":6.5},{"s":"H-SVM","x":0.0172,"y":6.53},{"s":"H-SVM","x":0.0174,"y":5.12},{"s":"H-SVM","x":0.0176,"y":5.94},{"s":"H-SVM","x":0.0178,"y":6.67},{"s":"H-SVM","x":0.018,"y":6.01},{"s":"H-SVM","x":0.0182,"y":6.15},{"s":"H-SVM","x":0.0184,"y":6.53},{"s":"H-SVM","x":0.0186,"y":6.5},{"s":"H-SVM","x":0.0188,"y":6.74},{"s":"H-SVM","x":0.019,"y":6.08},{"s":"H-SVM","x":0.0192,"y":5.01},{"s":"H-SVM","x":0.0194,"y":6.53},{"s":"H-SVM","x":0.0196,"y":5.7},{"s":"H-SVM","x":0.0198,"y":6.01},{"s":"H-SVM","x":0.02,"y":6.25}
]
},
"config": {
"font": "Liberation Serif, Times New Roman, DejaVu Serif, serif",
"view": {"stroke": "#7a7a7a", "strokeWidth": 1},
"point": {"color": "#2a2a2a"},
"axis": {"grid": false, "domain": false, "tickSize": -5, "tickColor": "#7a7a7a", "tickWidth": 1, "labelPadding": 11, "labelFont": "Liberation Serif, Times New Roman, DejaVu Serif, serif", "labelFontSize": 20, "labelColor": "#5a5a5a", "labelFlush": false, "labelOverlap": false, "titleFont": "Liberation Serif, Times New Roman, DejaVu Serif, serif", "titleFontWeight": "normal", "titleColor": "#333333"},
"axisX": {"titleFontSize": 17.5, "titlePadding": -2, "titleLineHeight": 16},
"axisY": {"titleFontSize": 20, "titlePadding": -2, "labelOffset": -1},
"legend": {"orient": "none", "legendX": 33, "legendY": 819, "direction": "horizontal", "labelFont": "Liberation Serif, Times New Roman, DejaVu Serif, serif", "labelFontSize": 18, "labelColor": "#222222", "symbolSize": 90, "symbolStrokeWidth": 0.9, "symbolStrokeColor": "#2a2a2a", "symbolFillColor": "transparent", "columnPadding": 75, "labelOffset": 20}
},
"columns": 2,
"spacing": {"row": 76, "column": 58},
"bounds": "flush",
"concat": [
{"width": 226, "height": 334, "data": {"name": "a"},
"encoding": {
"x": {"field": "x", "type": "quantitative", "scale": {"domain": [0.004, 0.02], "nice": false, "zero": false}},
"y": {"field": "y", "type": "quantitative", "scale": {"domain": [3, 10], "nice": false, "zero": false}}
},
"layer": [
{"mark": {"type": "point", "filled": false, "size": 121, "strokeWidth": 0.9, "opacity": 1, "color": "#2a2a2a"},
"encoding": {
"x": {"field": "x", "type": "quantitative", "axis": {"orient": "bottom", "values": [0.004, 0.008, 0.012, 0.016, 0.02], "format": ".3f", "title": ["Values of outliers in p.u.", "(a)"]}},
"y": {"field": "y", "type": "quantitative", "axis": {"orient": "left", "values": [3, 4, 5, 6, 7, 8, 9, 10], "title": "RE (%)"}},
"shape": {"field": "s", "type": "nominal", "scale": {"domain": ["SVM", "H-SVM", "SG-SVM"], "range": ["M-0.85,0L0.85,0M0,-0.85L0,0.85M-0.6,-0.6L0.6,0.6M-0.6,0.6L0.6,-0.6", "triangle-up", "circle"]}, "legend": {"title": null}}
}},
{"mark": {"type": "point", "opacity": 0},
"encoding": {
"x": {"field": "x", "type": "quantitative", "axis": {"orient": "top", "labels": false, "title": null, "values": [0.004, 0.008, 0.012, 0.016, 0.02]}},
"y": {"field": "y", "type": "quantitative", "axis": {"orient": "right", "labels": false, "title": null, "values": [3, 4, 5, 6, 7, 8, 9, 10]}}
}}
],
"resolve": {"axis": {"x": "independent", "y": "independent"}}
},
{"width": 226, "height": 334, "data": {"name": "b"},
"encoding": {
"x": {"field": "x", "type": "quantitative", "scale": {"domain": [0.004, 0.02], "nice": false, "zero": false}},
"y": {"field": "y", "type": "quantitative", "scale": {"domain": [3, 10], "nice": false, "zero": false}}
},
"layer": [
{"mark": {"type": "point", "filled": false, "size": 121, "strokeWidth": 0.9, "opacity": 1, "color": "#2a2a2a"},
"encoding": {
"x": {"field": "x", "type": "quantitative", "axis": {"orient": "bottom", "values": [0.004, 0.008, 0.012, 0.016, 0.02], "format": ".3f", "title": ["Values of outliers in p.u.", "(b)"]}},
"y": {"field": "y", "type": "quantitative", "axis": {"orient": "left", "values": [3, 4, 5, 6, 7, 8, 9, 10], "title": "RE (%)"}},
"shape": {"field": "s", "type": "nominal", "scale": {"domain": ["SVM", "H-SVM", "SG-SVM"], "range": ["M-0.85,0L0.85,0M0,-0.85L0,0.85M-0.6,-0.6L0.6,0.6M-0.6,0.6L0.6,-0.6", "triangle-up", "circle"]}, "legend": {"title": null}}
}},
{"mark": {"type": "point", "opacity": 0},
"encoding": {
"x": {"field": "x", "type": "quantitative", "axis": {"orient": "top", "labels": false, "title": null, "values": [0.004, 0.008, 0.012, 0.016, 0.02]}},
"y": {"field": "y", "type": "quantitative", "axis": {"orient": "right", "labels": false, "title": null, "values": [3, 4, 5, 6, 7, 8, 9, 10]}}
}}
],
"resolve": {"axis": {"x": "independent", "y": "independent"}}
},
{"width": 226, "height": 335, "data": {"name": "c"},
"encoding": {
"x": {"field": "x", "type": "quantitative", "scale": {"domain": [0.004, 0.02], "nice": false, "zero": false}},
"y": {"field": "y", "type": "quantitative", "scale": {"domain": [3, 10], "nice": false, "zero": false}}
},
"layer": [
{"mark": {"type": "point", "filled": false, "size": 121, "strokeWidth": 0.9, "opacity": 1, "color": "#2a2a2a"},
"encoding": {
"x": {"field": "x", "type": "quantitative", "axis": {"orient": "bottom", "values": [0.004, 0.008, 0.012, 0.016, 0.02], "format": ".3f", "title": ["Values of outliers in p.u.", "(c)"]}},
"y": {"field": "y", "type": "quantitative", "axis": {"orient": "left", "values": [3, 4, 5, 6, 7, 8, 9, 10], "title": "RE (%)"}},
"shape": {"field": "s", "type": "nominal", "scale": {"domain": ["SVM", "H-SVM", "SG-SVM"], "range": ["M-0.85,0L0.85,0M0,-0.85L0,0.85M-0.6,-0.6L0.6,0.6M-0.6,0.6L0.6,-0.6", "triangle-up", "circle"]}, "legend": {"title": null}}
}},
{"mark": {"type": "point", "opacity": 0},
"encoding": {
"x": {"field": "x", "type": "quantitative", "axis": {"orient": "top", "labels": false, "title": null, "values": [0.004, 0.008, 0.012, 0.016, 0.02]}},
"y": {"field": "y", "type": "quantitative", "axis": {"orient": "right", "labels": false, "title": null, "values": [3, 4, 5, 6, 7, 8, 9, 10]}}
}}
],
"resolve": {"axis": {"x": "independent", "y": "independent"}}
},
{"width": 226, "height": 335, "data": {"name": "d"},
"encoding": {
"x": {"field": "x", "type": "quantitative", "scale": {"domain": [0.004, 0.02], "nice": false, "zero": false}},
"y": {"field": "y", "type": "quantitative", "scale": {"domain": [3, 10], "nice": false, "zero": false}}
},
"layer": [
{"mark": {"type": "point", "filled": false, "size": 121, "strokeWidth": 0.9, "opacity": 1, "color": "#2a2a2a"},
"encoding": {
"x": {"field": "x", "type": "quantitative", "axis": {"orient": "bottom", "values": [0.004, 0.008, 0.012, 0.016, 0.02], "format": ".3f", "title": ["Values of outliers in p.u.", "(d)"]}},
"y": {"field": "y", "type": "quantitative", "axis": {"orient": "left", "values": [3, 4, 5, 6, 7, 8, 9, 10], "title": "RE (%)"}},
"shape": {"field": "s", "type": "nominal", "scale": {"domain": ["SVM", "H-SVM", "SG-SVM"], "range": ["M-0.85,0L0.85,0M0,-0.85L0,0.85M-0.6,-0.6L0.6,0.6M-0.6,0.6L0.6,-0.6", "triangle-up", "circle"]}, "legend": {"title": null}}
}},
{"mark": {"type": "point", "opacity": 0},
"encoding": {
"x": {"field": "x", "type": "quantitative", "axis": {"orient": "top", "labels": false, "title": null, "values": [0.004, 0.008, 0.012, 0.016, 0.02]}},
"y": {"field": "y", "type": "quantitative", "axis": {"orient": "right", "labels": false, "title": null, "values": [3, 4, 5, 6, 7, 8, 9, 10]}}
}}
],
"resolve": {"axis": {"x": "independent", "y": "independent"}}
}
]
}
